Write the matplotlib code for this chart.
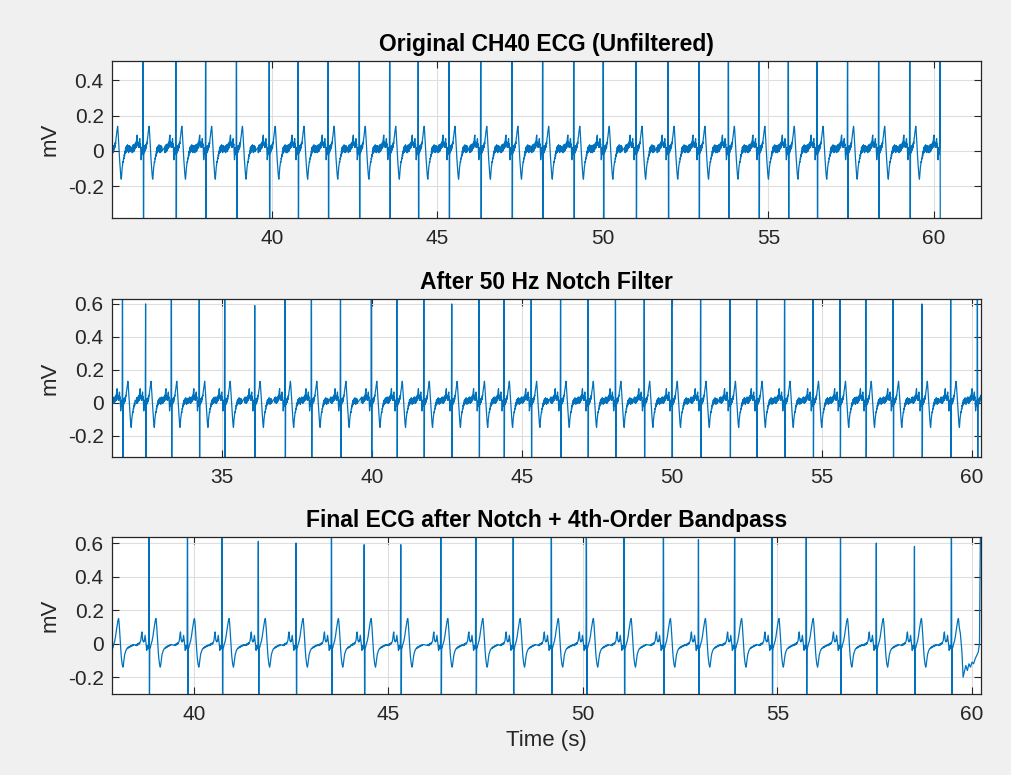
import numpy as np
import matplotlib
matplotlib.use("Agg")
import matplotlib.pyplot as plt
from matplotlib.ticker import FormatStrFormatter

plt.rcParams["font.family"] = ["Liberation Sans", "DejaVu Sans"]
plt.rcParams["axes.unicode_minus"] = False

# beat template sampled every 10 ms around each R peak (s)
PRE_DT = np.round(np.arange(-0.34, -0.005, 0.01), 2)   # 34 samples
POST_DT = np.round(np.arange(0.02, 0.575, 0.01), 2)    # 56 samples
S_DT = 0.012

# panel 1: original (unfiltered)
p1_beats = [35.16, 36.11, 37.10, 38.00, 38.93, 39.92, 40.79, 41.70, 42.64,
            43.56, 44.42, 45.35, 46.31, 47.25, 48.18, 49.12, 50.01, 51.00,
            51.97, 52.90, 53.79, 54.71, 55.60, 56.47, 57.39, 58.33, 59.27,
            60.18]
p1_r = [0.9] * len(p1_beats)
p1_s = -0.8
p1_pre = [0.02, -0.01, 0.03, 0.00, 0.035, -0.005, 0.03, 0.00, 0.04, 0.01,
          0.035, 0.015, 0.05, 0.02, 0.06, 0.08, 0.09, 0.04, 0.03, 0.05,
          0.02, 0.045, 0.02, 0.06, 0.07, 0.03, 0.04, -0.01, -0.05, -0.03,
          0.02, 0.00, -0.02, 0.03]
p1_post = [-0.03, 0.02, -0.01, 0.03, 0.00, 0.03, 0.01, 0.04, 0.02, 0.05,
           0.04, 0.07, 0.08, 0.10, 0.115, 0.13, 0.14, 0.12, 0.09, 0.05,
           0.02, -0.02, -0.05, -0.08, -0.11, -0.13, -0.15, -0.16, -0.14, -0.11,
           -0.09, -0.08, -0.06, -0.065, -0.04, -0.045, -0.02, -0.03, 0.00, -0.015,
           0.02, -0.01, 0.025, -0.005, 0.03, 0.00, 0.035, 0.005, 0.025, -0.01,
           0.03, 0.00, 0.03, -0.005, 0.025, 0.0]
p1_end = 60.20

# panel 2: after notch
p2_beats = [31.68, 32.45, 33.31, 34.24, 35.09, 36.09, 37.10, 37.98, 38.95,
            39.98, 40.83, 41.73, 42.66, 43.57, 44.40, 45.31, 46.29, 47.20,
            48.12, 49.08, 50.00, 50.96, 51.94, 52.83, 53.76, 54.71, 55.61,
            56.47, 57.38, 58.34, 59.30, 60.19]
p2_r = [0.9, 0.60, 0.9, 0.9, 0.9, 0.59, 0.9, 0.9, 0.9, 0.9, 0.9, 0.9, 0.60,
        0.9, 0.9, 0.9, 0.9, 0.9, 0.9, 0.9, 0.9, 0.9, 0.9, 0.9, 0.9, 0.9,
        0.9, 0.9, 0.9, 0.60, 0.9, 0.9]
p2_s = -0.5
p2_pre = [0.03, 0.0, 0.035, 0.005, 0.03, -0.005, 0.025, 0.0, 0.035, 0.005,
          0.03, 0.01, 0.045, 0.015, 0.055, 0.075, 0.085, 0.035, 0.025, 0.045,
          0.015, 0.04, 0.015, 0.055, 0.065, 0.025, 0.035, -0.01, -0.05, -0.03,
          0.015, -0.005, -0.02, 0.025]
p2_post = [-0.03, 0.015, -0.01, 0.025, 0.0, 0.025, 0.005, 0.035, 0.02, 0.045,
           0.04, 0.065, 0.075, 0.09, 0.105, 0.12, 0.13, 0.11, 0.08, 0.045,
           0.015, -0.02, -0.05, -0.08, -0.10, -0.12, -0.14, -0.15, -0.13, -0.10,
           -0.085, -0.075, -0.055, -0.06, -0.035, -0.04, -0.015, -0.025, 0.0, -0.015,
           0.015, -0.01, 0.02, -0.005, 0.025, -0.005, 0.03, 0.0, 0.02, -0.01,
           0.025, 0.0, 0.025, -0.005, 0.02, 0.0]
p2_end = 60.31

# panel 3: notch + bandpass
p3_beats = [37.89, 38.85, 39.84, 40.73, 41.66, 42.63, 43.54, 44.38, 45.32,
            46.35, 47.25, 48.21, 49.19, 50.09, 51.06, 52.07, 52.97, 53.90,
            54.86, 55.74, 56.62, 57.54, 58.52, 59.47]
p3_r = [0.9, 0.9, 0.9, 0.9, 0.61, 0.60, 0.9, 0.59, 0.59, 0.9, 0.9, 0.9,
        0.9, 0.9, 0.9, 0.9, 0.62, 0.9, 0.9, 0.9, 0.9, 0.60, 0.58, 0.9]
p3_s = -0.5
p3_pre = [-0.01, -0.005, -0.012, -0.004, -0.01, 0.0, -0.006, 0.002, -0.004, 0.005,
          0.0, 0.008, 0.012, 0.02, 0.04, 0.06, 0.07, 0.04, 0.02, 0.015,
          0.01, 0.02, 0.015, 0.035, 0.05, 0.03, 0.015, -0.01, -0.04, -0.035,
          -0.01, -0.02, -0.03, 0.0]
p3_post = [-0.04, -0.02, -0.02, -0.005, 0.0, 0.01, 0.015, 0.03, 0.04, 0.06,
           0.075, 0.09, 0.105, 0.12, 0.135, 0.145, 0.15, 0.13, 0.10, 0.06,
           0.02, -0.02, -0.05, -0.08, -0.10, -0.12, -0.13, -0.14, -0.13, -0.11,
           -0.09, -0.075, -0.06, -0.055, -0.045, -0.04, -0.035, -0.03, -0.03, -0.025,
           -0.028, -0.02, -0.024, -0.018, -0.022, -0.015, -0.019, -0.012, -0.016, -0.01,
           -0.014, -0.008, -0.012, -0.006, -0.01, -0.005]
p3_end = 59.68
p3_tail_t = [59.70, 59.74, 59.77, 59.80, 59.84, 59.88, 59.92, 59.96, 60.00,
             60.04, 60.08, 60.12, 60.16, 60.19, 60.22]
p3_tail_mv = [0.06, -0.05, -0.20, -0.17, -0.13, -0.16, -0.12, -0.14, -0.11,
              -0.12, -0.09, -0.07, -0.05, 0.0, 0.8]


def build(beats, r_mv, s_mv, pre_mv, post_mv, t_end):
    t, v = [], []
    for i, b in enumerate(beats):
        prev_b = beats[i - 1] if i > 0 else -1e9
        next_b = beats[i + 1] if i + 1 < len(beats) else 1e9
        for dt, mv in zip(PRE_DT, pre_mv):
            if b + dt > prev_b + 0.45 and b + dt < t_end:
                t.append(b + dt)
                v.append(mv)
        if b < t_end:
            t.append(b)
            v.append(r_mv[i])
            t.append(b + S_DT)
            v.append(s_mv)
        for dt, mv in zip(POST_DT, post_mv):
            if b + dt < next_b + PRE_DT[0] and b + dt < t_end:
                t.append(b + dt)
                v.append(mv)
    return np.array(t), np.array(v)


t1, v1 = build(p1_beats, p1_r, p1_s, p1_pre, p1_post, p1_end)
t2, v2 = build(p2_beats, p2_r, p2_s, p2_pre, p2_post, p2_end)
t3, v3 = build(p3_beats, p3_r, p3_s, p3_pre, p3_post, p3_end)
t3 = np.concatenate([t3, p3_tail_t])
v3 = np.concatenate([v3, p3_tail_mv])

fig = plt.figure(figsize=(10.11, 7.75), dpi=100, facecolor="#f0f0f0")

W = 1011.0
H = 775.0
panels = [
    # box (left, top, right, bottom) px, data, xlim, ylim, xticks, yticks, title
    ((112, 61, 981, 218), (t1, v1), (35.17, 61.42), (-0.38, 0.51),
     [40, 45, 50, 55, 60], [-0.2, 0, 0.2, 0.4],
     "Original CH40 ECG (Unfiltered)"),
    ((112, 299, 981, 457), (t2, v2), (31.33, 60.31), (-0.33, 0.63),
     [35, 40, 45, 50, 55, 60], [-0.2, 0, 0.2, 0.4, 0.6],
     "After 50 Hz Notch Filter"),
    ((112, 537, 981, 694), (t3, v3), (37.90, 60.23), (-0.30, 0.636),
     [40, 45, 50, 55, 60], [-0.2, 0, 0.2, 0.4, 0.6],
     "Final ECG after Notch + 4th-Order Bandpass"),
]

for k, (box, (t, v), xl, yl, xt, yt, title) in enumerate(panels):
    l, tp, r, b = box
    ax = fig.add_axes([l / W, 1 - b / H, (r - l) / W, (b - tp) / H])
    ax.set_facecolor("white")
    ax.plot(t, v, color="#0072BD", lw=0.9)
    ax.set_xlim(*xl)
    ax.set_ylim(*yl)
    ax.set_xticks(xt)
    ax.set_yticks(yt)
    ax.yaxis.set_major_formatter(FormatStrFormatter("%g"))
    ax.grid(True, color="#dedede", lw=0.8)
    ax.set_axisbelow(True)
    ax.tick_params(direction="in", top=True, right=True, length=5,
                   width=0.8, color="#262626", labelsize=15,
                   labelcolor="#262626")
    ax.tick_params(axis="x", pad=8)
    ax.tick_params(axis="y", pad=6)
    for s in ax.spines.values():
        s.set_color("#262626")
        s.set_linewidth(0.9)
    ax.set_ylabel("mV", fontsize=16, color="#262626", labelpad=5)
    ax.set_title(title, fontsize=16.5, fontweight="bold", color="#000000",
                 pad=7)
    if k == 2:
        ax.set_xlabel("Time (s)", fontsize=16, color="#262626", labelpad=4)

fig.savefig("out.png", dpi=100, facecolor=fig.get_facecolor())
